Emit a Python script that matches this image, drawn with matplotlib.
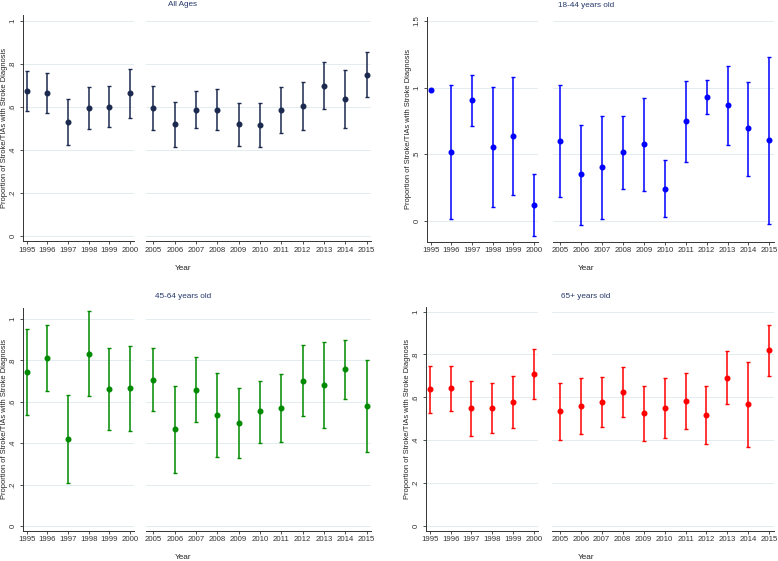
import numpy as np
import matplotlib
matplotlib.use('Agg')
import matplotlib.pyplot as plt

plt.rcParams['font.family'] = ['Liberation Sans', 'DejaVu Sans']

W, H = 778, 561

# x groups (two broken segments)
years_early = [1995, 1996, 1997, 1998, 1999, 2000]
years_late = [2005, 2006, 2007, 2008, 2009, 2010, 2011, 2012, 2013, 2014, 2015]
years = years_early + years_late

# All ages
all_est = [0.676, 0.667, 0.530, 0.595, 0.602, 0.664,
           0.595, 0.519, 0.588, 0.588, 0.521, 0.516, 0.584, 0.605, 0.699, 0.639, 0.750]
all_lo = [0.583, 0.574, 0.422, 0.496, 0.509, 0.550,
          0.491, 0.414, 0.502, 0.491, 0.420, 0.414, 0.478, 0.495, 0.589, 0.504, 0.647]
all_hi = [0.767, 0.760, 0.639, 0.693, 0.696, 0.775,
          0.699, 0.622, 0.673, 0.682, 0.620, 0.619, 0.691, 0.715, 0.808, 0.774, 0.857]

# 18-44 years old (1995 has no interval)
young_est = [0.983, 0.515, 0.903, 0.555, 0.633, 0.118,
             0.600, 0.348, 0.400, 0.513, 0.573, 0.240, 0.748, 0.928, 0.868, 0.693, 0.605]
young_lo = [np.nan, 0.013, 0.710, 0.103, 0.190, -0.113,
            0.175, -0.028, 0.013, 0.240, 0.220, 0.025, 0.445, 0.798, 0.568, 0.338, -0.025]
young_hi = [np.nan, 1.018, 1.093, 1.005, 1.078, 0.348,
            1.023, 0.720, 0.788, 0.785, 0.920, 0.453, 1.050, 1.060, 1.163, 1.045, 1.233]

# 45-64 years old
mid_est = [0.742, 0.813, 0.419, 0.831, 0.661, 0.666,
           0.706, 0.466, 0.658, 0.537, 0.498, 0.553, 0.569, 0.700, 0.682, 0.756, 0.579]
mid_lo = [0.534, 0.650, 0.208, 0.626, 0.465, 0.460,
          0.553, 0.258, 0.500, 0.331, 0.329, 0.403, 0.405, 0.529, 0.474, 0.615, 0.356]
mid_hi = [0.952, 0.973, 0.634, 1.039, 0.858, 0.871,
          0.858, 0.674, 0.818, 0.740, 0.665, 0.702, 0.732, 0.873, 0.889, 0.897, 0.800]

# 65+ years old
old_est = [0.638, 0.642, 0.550, 0.550, 0.579, 0.707,
           0.534, 0.559, 0.579, 0.626, 0.525, 0.550, 0.582, 0.519, 0.692, 0.568, 0.821]
old_lo = [0.528, 0.537, 0.420, 0.432, 0.458, 0.590,
          0.402, 0.427, 0.463, 0.510, 0.395, 0.411, 0.452, 0.381, 0.570, 0.369, 0.701]
old_hi = [0.745, 0.745, 0.677, 0.666, 0.698, 0.825,
          0.666, 0.689, 0.696, 0.742, 0.653, 0.688, 0.714, 0.653, 0.814, 0.765, 0.937]

TXT = '#222222'
TITLE_C = '#26386a'
GRID_C = '#e3edf0'
FS = 5.6
FS_TITLE = 5.9
FS_LAB = 5.4


def px_rect(x0, y0, x1, y1):
    return [x0 / W, 1 - y1 / H, (x1 - x0) / W, (y1 - y0) / H]


def draw_panel(fig, left_px, right_px, yspan, est, lo, hi, color, title,
               yticks, yticklabels, ylim):
    est = np.array(est)
    lo = np.array(lo)
    hi = np.array(hi)
    yrs = np.array(years)
    y0, y1 = yspan
    axl = fig.add_axes(px_rect(left_px[0], y0, left_px[1], y1))
    axr = fig.add_axes(px_rect(right_px[0], y0, right_px[1], y1))
    for ax, sel, xlim in [(axl, yrs <= 2000, (1994.8, 2000.2)),
                          (axr, yrs >= 2005, (2004.64, 2015.2))]:
        e, l, h, x = est[sel], lo[sel], hi[sel], yrs[sel]
        ok = ~np.isnan(l)
        ax.errorbar(x[ok], e[ok], yerr=[e[ok] - l[ok], h[ok] - e[ok]], fmt='none',
                    ecolor=color, elinewidth=1.1, capsize=1.7, capthick=1.0, zorder=3)
        ax.plot(x, e, 'o', color=color, markersize=3.3, zorder=4)
        ax.set_xlim(*xlim)
        ax.set_ylim(*ylim)
        ax.set_xticks(x)
        ax.set_xticklabels([str(v) for v in x], fontsize=FS, color=TXT)
        ax.set_yticks(yticks)
        for yt in yticks:
            ax.axhline(yt, color=GRID_C, lw=0.7, zorder=0)
        for s in ['top', 'right']:
            ax.spines[s].set_visible(False)
        ax.spines['bottom'].set_color('#333333')
        ax.spines['bottom'].set_linewidth(0.7)
        ax.tick_params(axis='x', length=2.5, width=0.6, pad=1.5, colors='#333333')
    axl.set_yticklabels(yticklabels, rotation=90, va='center', fontsize=FS, color=TXT)
    axl.spines['left'].set_color('#333333')
    axl.spines['left'].set_linewidth(0.7)
    axl.tick_params(axis='y', length=2.5, width=0.6, pad=2, colors='#333333')
    axr.spines['left'].set_visible(False)
    axr.tick_params(axis='y', left=False, labelleft=False)

    cx = (left_px[0] + right_px[1]) / 2 - 14
    fig.text(cx / W, 1 - (y0 - 11) / H, title, ha='center', va='center',
             fontsize=FS_TITLE, color=TITLE_C)
    fig.text(cx / W, 1 - (y1 + 27) / H, 'Year', ha='center', va='center',
             fontsize=FS_TITLE, color=TXT)
    fig.text((left_px[0] - 18.5) / W, 1 - ((y0 + y1) / 2) / H,
             'Proportion of Stroke/TIAs with Stroke Diagnosis', rotation=90,
             ha='center', va='center', fontsize=FS_LAB, color=TXT)


fig = plt.figure(figsize=(W / 100, H / 100), dpi=100)

draw_panel(fig, (22.7, 134), (145.7, 371), (15, 241), all_est, all_lo, all_hi,
           '#1b2a4e', 'All Ages', [0, 0.2, 0.4, 0.6, 0.8, 1.0],
           ['0', '.2', '.4', '.6', '.8', '1'], (-0.023, 1.028))
draw_panel(fig, (426.7, 538), (552.7, 773.5), (16.7, 241.7), young_est, young_lo, young_hi,
           '#0000ff', '18-44 years old', [0, 0.5, 1.0, 1.5],
           ['0', '.5', '1', '1.5'], (-0.157, 1.532))
draw_panel(fig, (22.7, 134), (145.7, 371), (308, 530.7), mid_est, mid_lo, mid_hi,
           '#008a00', '45-64 years old', [0, 0.2, 0.4, 0.6, 0.8, 1.0],
           ['0', '.2', '.4', '.6', '.8', '1'], (-0.023, 1.053))
draw_panel(fig, (425.7, 538), (552.3, 773.5), (307.3, 530.7), old_est, old_lo, old_hi,
           '#ff0000', '65+ years old', [0, 0.2, 0.4, 0.6, 0.8, 1.0],
           ['0', '.2', '.4', '.6', '.8', '1'], (-0.022, 1.02))

fig.savefig('out.png', dpi=100)
